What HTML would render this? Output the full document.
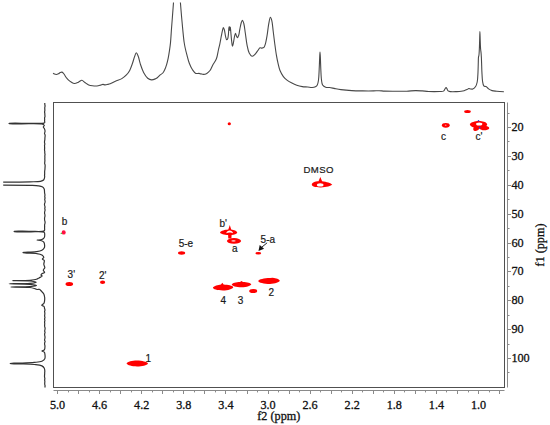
<!DOCTYPE html>
<html><head><meta charset="utf-8"><style>
html,body{margin:0;padding:0;background:#fff;}
body{width:550px;height:425px;overflow:hidden;}
svg{display:block;}
.serif{font-family:"Liberation Serif",serif;font-size:12.2px;fill:#111;stroke:#111;stroke-width:0.3px;}
.lab{font-family:"Liberation Sans",sans-serif;font-size:10px;fill:#1a1a1a;stroke:#1a1a1a;stroke-width:0.2px;}
</style></head><body>
<svg width="550" height="425" viewBox="0 0 550 425">
<rect x="0" y="0" width="550" height="425" fill="#fff"/>
<!-- 1D spectra -->
<path d="M53.1 73.1 C53.1 73.1 53.98 73.87 54.5 74.1 C55.04 74.34 55.68 74.53 56.3 74.5 C56.98 74.47 57.75 74.12 58.4 73.8 C59.05 73.48 59.59 72.89 60.2 72.6 C60.76 72.34 61.38 72.01 61.9 72.1 C62.41 72.19 62.86 72.66 63.3 73.1 C63.84 73.64 64.32 74.47 64.8 75.2 C65.29 75.94 65.64 76.76 66.2 77.5 C66.8 78.3 67.52 79.07 68.3 79.8 C69.14 80.58 70.08 81.39 71.1 82 C72.14 82.63 73.32 83.44 74.5 83.5 C75.74 83.56 77.16 82.74 78.4 82.2 C79.62 81.67 80.8 80.23 81.9 80.3 C82.96 80.37 83.83 81.77 84.9 82.5 C86.08 83.3 87.39 84.35 88.7 84.9 C89.93 85.42 91.18 85.62 92.5 85.8 C93.9 86 95.5 86.13 96.9 86 C98.22 85.88 99.61 85.4 100.7 85.1 C101.54 84.87 102.16 84.43 102.9 84.4 C103.63 84.37 104.33 84.88 105.1 84.9 C105.95 84.92 106.93 84.61 107.8 84.4 C108.63 84.2 109.26 84.06 110.2 83.7 C111.62 83.16 113.56 82.01 115.4 81.2 C117.41 80.31 119.91 79.71 121.8 78.6 C123.54 77.57 125.07 76.29 126.4 74.9 C127.69 73.55 128.74 72.14 129.7 70.4 C130.82 68.36 131.66 65.68 132.5 63.3 C133.33 60.95 133.96 58.12 134.7 56.2 C135.23 54.84 135.72 52.82 136.3 52.8 C136.89 52.78 137.63 54.8 138.2 56.2 C139.02 58.21 139.44 61.29 140.3 63.9 C141.22 66.69 142.26 69.91 143.6 72.4 C144.78 74.6 146.16 76.94 147.7 78.2 C148.89 79.17 150.28 79.81 151.6 79.9 C152.88 79.99 154.43 79.27 155.5 78.8 C156.34 78.43 156.9 78.06 157.6 77.5 C158.46 76.82 159.3 75.67 160.2 74.9 C161.04 74.18 162.07 73.81 162.8 73 C163.59 72.13 164.12 71.03 164.7 69.8 C165.41 68.3 166.04 66.45 166.6 64.6 C167.22 62.57 167.73 60.37 168.2 58.1 C168.71 55.65 169.12 52.98 169.5 50.4 C169.88 47.81 170.21 45.51 170.5 42.6 C170.87 38.91 171.09 34.23 171.4 30 C171.72 25.7 172.06 21.45 172.4 17 C172.76 12.3 173.5 2.5 173.5 2.5 M180.4 2.5 C180.4 2.5 181.19 12.3 181.6 17 C181.99 21.45 182.37 25.76 182.8 30 C183.21 34.08 183.62 38.69 184.1 42 C184.44 44.35 184.77 45.99 185.2 48 C185.64 50.06 186.1 51.94 186.7 54.2 C187.43 56.95 188.25 60.56 189.3 63.3 C190.22 65.69 191.28 68.02 192.5 69.8 C193.5 71.26 194.58 72.86 195.8 73.4 C196.79 73.83 198.08 73.28 199 73.4 C199.72 73.49 200.21 73.74 200.9 73.9 C201.7 74.08 202.59 74.45 203.5 74.4 C204.54 74.35 205.77 73.98 206.8 73.4 C207.95 72.75 209.06 71.72 210 70.5 C211.12 69.04 211.78 66.87 212.8 65 C213.9 62.98 215.49 61.12 216.4 58.8 C217.43 56.19 217.78 52.7 218.4 50 C218.93 47.7 219.42 45.85 219.9 43.6 C220.43 41.11 220.93 38.07 221.4 35.7 C221.79 33.76 222.11 31.88 222.5 30.4 C222.79 29.31 223.07 27.61 223.4 27.6 C223.71 27.59 224.1 29 224.4 30 C224.86 31.55 225.06 34.33 225.5 36.1 C225.85 37.5 226.21 39.7 226.7 39.8 C227 39.86 227.44 39.24 227.7 38.7 C228.14 37.8 228.21 36.14 228.4 34.6 C228.64 32.62 228.64 29.17 228.9 27.8 C229.02 27.19 229.18 26.49 229.3 26.5 C229.51 26.52 229.63 30.5 229.8 30.5 C229.96 30.5 230.15 27 230.3 27 C230.48 27 230.62 30.03 230.8 31.9 C231.04 34.39 231.27 38.02 231.6 40.6 C231.86 42.68 232.15 46.18 232.5 46.2 C232.77 46.21 233.11 44.13 233.4 42.8 C233.81 40.95 234.16 37.82 234.6 36.1 C234.88 34.99 235.18 33.41 235.5 33.4 C235.82 33.39 236.14 35.33 236.5 36.1 C236.78 36.72 237.08 37.7 237.4 37.7 C237.8 37.7 238.34 36.32 238.7 35.3 C239.24 33.78 239.37 31.37 239.8 29.3 C240.26 27.05 240.79 23.9 241.4 22.3 C241.74 21.4 242.14 20.28 242.5 20.3 C242.94 20.33 243.42 22.12 243.8 23.5 C244.44 25.8 244.79 29.63 245.3 33 C245.88 36.83 246.35 41.68 247.1 45.3 C247.7 48.21 248.16 51.15 249.2 53.1 C249.95 54.51 251 56.16 252 56.3 C252.88 56.42 253.93 55.3 254.8 54.5 C255.82 53.57 256.7 52.06 257.6 50.9 C258.43 49.83 259.14 48.14 260 47.8 C260.6 47.56 261.26 48.15 261.9 48.1 C262.59 48.04 263.45 47.92 264 47.4 C264.72 46.72 264.97 45.35 265.4 43.9 C266.05 41.71 266.58 38.44 267.1 35.4 C267.7 31.91 268.06 27.38 268.7 24.1 C269.2 21.53 269.78 17.35 270.4 17.3 C270.84 17.27 271.41 19.15 271.8 20.6 C272.48 23.1 272.74 27.61 273.2 31.2 C273.67 34.91 274.09 38.63 274.6 42.5 C275.15 46.61 275.75 51.4 276.4 55.2 C276.93 58.33 277.48 61.06 278.1 63.7 C278.65 66.05 279.05 68.2 279.9 70.3 C280.75 72.4 281.93 74.6 283.2 76.3 C284.33 77.8 285.62 79.01 287 80.1 C288.36 81.17 289.83 81.96 291.4 82.8 C293.08 83.7 294.96 84.66 296.8 85.3 C298.59 85.92 300.46 86.32 302.3 86.6 C304.1 86.88 305.99 86.84 307.7 87 C309.24 87.14 310.74 87.57 312.1 87.5 C313.28 87.44 314.5 87.27 315.4 86.8 C316.19 86.38 316.81 85.85 317.3 85 C317.98 83.82 318.2 82.01 318.5 80 C318.94 77.06 319 72.75 319.2 69 C319.41 65.09 319.54 60.14 319.7 57 C319.8 54.97 319.89 52 320 52 C320.11 52 320.24 54.97 320.35 57 C320.52 60.14 320.6 65.09 320.8 69 C320.99 72.75 321.09 77.06 321.5 80 C321.78 82 321.79 83.77 322.6 85 C323.3 86.06 324.55 86.78 325.7 87.2 C326.85 87.62 328.12 87.31 329.5 87.5 C331.17 87.73 333.13 88.25 335 88.6 C336.93 88.96 338.63 89.3 340.9 89.6 C343.97 90 348.16 90.38 351.8 90.6 C355.43 90.82 359.07 90.85 362.7 90.9 C366.33 90.95 370.58 90.95 373.6 90.9 C375.74 90.86 377.28 90.67 379.1 90.7 C380.91 90.73 382.37 91.01 384.5 91.1 C387.6 91.23 392.14 91.18 395.9 91.2 C399.57 91.22 403.37 91.32 406.8 91.2 C409.87 91.09 412.8 90.63 415.5 90.6 C417.85 90.57 419.91 90.75 422.1 90.9 C424.28 91.05 426.15 91.39 428.6 91.5 C431.76 91.65 436.76 91.64 439.5 91.5 C441.16 91.42 442.53 91.69 443.5 91.1 C444.35 90.58 444.7 89.15 445.2 88.5 C445.53 88.07 445.81 87.48 446.1 87.5 C446.42 87.53 446.69 88.39 447 88.9 C447.36 89.5 447.55 90.45 448.1 90.9 C448.65 91.35 449.36 91.45 450.3 91.6 C451.88 91.85 454.85 91.67 456.8 91.6 C458.41 91.55 459.89 91.48 461.2 91.3 C462.27 91.15 463.14 90.98 464.1 90.7 C465.08 90.42 466.16 90.01 467 89.6 C467.69 89.26 468.18 88.59 468.8 88.5 C469.38 88.42 469.96 88.91 470.6 89 C471.29 89.09 472.07 89.28 472.8 89 C473.75 88.64 474.88 87.57 475.6 86.5 C476.41 85.3 476.81 83.83 477.2 82 C477.77 79.35 477.82 75.34 478 72 C478.18 68.67 478.2 64.76 478.3 62 C478.37 60.05 478.32 58.17 478.5 57 C478.6 56.35 478.79 56.16 478.9 55.5 C479.11 54.25 479.19 52.11 479.3 50 C479.45 47.16 479.55 43.19 479.65 40 C479.74 37.08 479.81 31.6 479.9 31.6 C479.99 31.6 480.09 37.15 480.2 40 C480.32 42.95 480.4 46.57 480.6 49 C480.74 50.67 480.97 51.83 481.1 53.2 C481.22 54.5 481.27 55.59 481.35 57 C481.45 58.77 481.52 60.8 481.6 63 C481.7 65.7 481.74 68.96 481.9 72 C482.07 75.13 482.16 78.95 482.6 81.5 C482.9 83.26 483.08 85.14 483.8 85.9 C484.27 86.39 485.07 86.28 485.6 86.5 C486.05 86.69 486.39 86.8 486.8 87.1 C487.37 87.51 487.85 88.36 488.6 88.9 C489.53 89.56 490.81 90.22 492.1 90.6 C493.52 91.02 495.07 91.02 496.8 91.2 C498.92 91.42 503.9 91.8 503.9 91.8" fill="none" stroke="#484848" stroke-width="1.1" stroke-linejoin="round"/>
<path d="M44.77 103 C44.77 103 44.79 104 44.84 104.5 C44.89 105 45.06 105.5 45.05 106 C45.04 106.5 44.82 107 44.78 107.5 C44.74 108 44.79 108.5 44.8 109 C44.81 109.5 44.88 110 44.85 110.5 C44.82 111 44.62 111.5 44.61 112 C44.6 112.5 44.76 113 44.81 113.5 C44.85 114 44.85 114.5 44.88 115 C44.91 115.5 45.03 116 44.98 116.5 C44.93 117 44.61 117.5 44.56 118 C44.51 118.5 44.68 119 44.68 119.5 C44.68 120 44.53 120.51 44.55 121 C44.57 121.48 44.93 122.04 44.8 122.4 C44.69 122.71 44.49 122.91 44 123.1 C42.23 123.78 35.13 123.3 30 123.35 C23.73 123.41 9.72 122.78 9.1 123.4 C9.04 123.46 9.04 123.54 9.1 123.6 C9.72 124.22 24.07 123.61 30 123.7 C34.4 123.77 39.34 123.68 41.5 124 C42.37 124.13 42.81 124.23 43.3 124.5 C43.71 124.73 44.25 125.03 44.3 125.4 C44.36 125.84 43.3 126.47 43.3 127 C43.3 127.53 44.02 128.03 44.3 128.6 C44.59 129.19 44.9 129.9 44.99 130.5 C45.07 131.02 45 131.5 44.92 132 C44.84 132.5 44.5 133 44.53 133.5 C44.56 134 45 134.49 45.09 135 C45.18 135.49 45.11 136 45.08 136.5 C45.05 137 44.92 137.5 44.89 138 C44.86 138.5 44.92 139 44.87 139.5 C44.82 140 44.65 140.5 44.59 141 C44.53 141.5 44.47 142 44.51 142.5 C44.55 143 44.82 143.5 44.82 144 C44.82 144.5 44.57 145 44.54 145.5 C44.51 146 44.59 146.5 44.61 147 C44.63 147.5 44.66 148 44.65 148.5 C44.64 149 44.5 149.5 44.52 150 C44.54 150.5 44.74 151 44.78 151.5 C44.82 152 44.72 152.5 44.76 153 C44.8 153.5 45 154 45.01 154.5 C45.02 155 44.83 155.5 44.81 156 C44.79 156.5 44.88 157 44.88 157.5 C44.88 158 44.8 158.5 44.8 159 C44.8 159.5 44.9 160 44.9 160.5 C44.9 161 44.81 161.5 44.77 162 C44.73 162.5 44.62 163 44.67 163.5 C44.72 164 45.03 164.49 45.1 165 C45.17 165.5 45.12 166 45.1 166.5 C45.08 167 45.03 167.5 45 168 C44.97 168.5 44.97 169 44.92 169.5 C44.87 170 44.74 170.5 44.69 171 C44.64 171.5 44.64 172 44.64 172.5 C44.64 173 44.69 173.5 44.67 174 C44.65 174.5 44.53 175.02 44.54 175.5 C44.55 175.95 44.75 176.28 44.7 176.8 C44.61 177.64 44.3 179.25 43.6 180 C42.9 180.75 41.88 180.99 40.5 181.3 C38.07 181.85 34.31 181.67 30 181.8 C23.12 182 3.2 182.1 3.2 182.1 M3.2 185.2 C3.2 185.2 23.56 185.22 30 185.4 C33.63 185.5 36.26 185.45 38.5 185.8 C40 186.04 41.22 186.2 42.2 186.8 C43.06 187.33 43.79 188.08 44.2 189 C44.68 190.07 44.45 191.9 44.6 193 C44.71 193.78 44.95 194.38 44.96 195 C44.97 195.54 44.73 196 44.74 196.5 C44.75 197 45.01 197.5 45.01 198 C45.01 198.5 44.72 199 44.73 199.5 C44.74 200 45.02 200.5 45.07 201 C45.12 201.5 45.1 202.01 45.01 202.5 C44.92 203.01 44.56 203.49 44.5 204 C44.44 204.49 44.54 205 44.63 205.5 C44.72 206 45.03 206.5 45.05 207 C45.07 207.5 44.77 208 44.78 208.5 C44.79 209 45.1 209.5 45.09 210 C45.08 210.5 44.83 211 44.74 211.5 C44.65 212 44.52 212.5 44.54 213 C44.56 213.5 44.81 214 44.88 214.5 C44.95 215 45.01 215.5 44.97 216 C44.93 216.5 44.73 217 44.66 217.5 C44.59 218 44.54 218.5 44.55 219 C44.56 219.5 44.61 220 44.7 220.5 C44.79 221 45.04 221.5 45.08 222 C45.12 222.5 45.03 223 44.95 223.5 C44.86 224 44.62 224.5 44.57 225 C44.52 225.5 44.65 226 44.65 226.5 C44.65 227 44.6 227.43 44.56 228 C44.5 228.77 44.99 230.05 44.3 230.7 C42.72 232.2 34.89 231.19 30 231.3 C24.87 231.42 14.84 230.71 14.2 231.35 C14.11 231.44 14.11 231.56 14.2 231.65 C14.84 232.29 24.87 231.67 30 231.8 C34.86 231.93 42.56 231.05 44.2 232.4 C44.84 232.93 44.67 233.72 44.7 234.5 C44.74 235.47 44.72 236.94 44.2 237.8 C43.7 238.62 42.73 239.21 41.7 239.6 C40.43 240.09 37 239.91 37 240.1 C37 240.28 40.29 240.25 41.5 240.7 C42.44 241.05 43.28 241.5 43.8 242.2 C44.33 242.92 44.52 244.06 44.6 245 C44.68 245.93 44.7 246.96 44.3 247.8 C43.86 248.72 42.97 249.59 41.9 250.2 C40.5 250.99 38.51 251.26 36.3 251.6 C33.21 252.08 27.27 252.15 25 252.3 C24.02 252.37 22.91 252.34 22.9 252.45 C22.89 252.57 24.01 252.85 25 253 C27.26 253.34 33.21 253.05 36.3 253.5 C38.51 253.82 40.61 254.08 41.9 254.9 C42.83 255.49 43.78 256.46 43.8 257.2 C43.82 257.86 42.32 258.55 42.4 259.1 C42.48 259.65 44 259.8 44.3 260.5 C44.68 261.39 43.7 263.09 43.8 264.3 C43.89 265.45 44.92 266.59 44.8 267.6 C44.69 268.54 43.29 269.38 43.3 270.2 C43.31 270.94 44.76 271.73 44.6 272.3 C44.43 272.93 42.52 273.14 41.9 273.7 C41.44 274.12 40.93 274.71 41 275.1 C41.07 275.47 42.22 275.66 42.2 276 C42.18 276.53 40.1 277.33 39.1 277.9 C38.2 278.42 37.6 278.93 36.5 279.3 C34.86 279.85 32.71 280.07 30 280.3 C25.56 280.68 12.3 280.48 12.3 280.6 C12.3 280.72 25.63 280.53 30 281 C32.61 281.28 36.2 281.8 36.2 282.2 C36.2 282.6 32.69 283.12 30 283.4 C25.1 283.92 9.1 283.65 9.1 283.8 C9.1 283.95 25.03 283.75 30 284.3 C32.8 284.61 36.51 285.22 36.5 285.6 C36.49 285.98 32.75 286.36 30 286.6 C25.32 287.01 10.9 286.85 10.9 287 C10.9 287.15 25.58 286.89 30 287.5 C32.41 287.83 34.12 288.52 35.5 288.9 C36.33 289.13 36.84 289.44 37.5 289.5 C38.11 289.56 38.7 289.1 39.3 289.3 C40.13 289.57 41.04 290.8 41.8 291.6 C42.53 292.37 43.33 293.1 43.8 294 C44.27 294.9 44.46 296.05 44.6 297 C44.73 297.84 44.76 298.53 44.7 299.4 C44.63 300.46 44.6 301.91 44.1 302.9 C43.62 303.86 41.7 304.68 41.8 305.3 C41.89 305.84 43.65 305.91 44.1 306.5 C44.5 307.02 44.38 307.88 44.54 308.5 C44.68 309.04 44.97 309.5 44.98 310 C44.99 310.5 44.63 311 44.61 311.5 C44.59 312 44.81 312.5 44.84 313 C44.87 313.5 44.81 314 44.77 314.5 C44.73 315 44.58 315.5 44.61 316 C44.64 316.5 44.94 317 44.94 317.5 C44.94 318 44.59 318.5 44.58 319 C44.57 319.5 44.89 320 44.89 320.5 C44.89 321 44.59 321.5 44.57 322 C44.55 322.5 44.74 323 44.75 323.5 C44.76 324 44.64 324.5 44.63 325 C44.62 325.5 44.59 326 44.66 326.5 C44.73 327 45.03 327.5 45.08 328 C45.13 328.5 45.05 329 44.98 329.5 C44.91 330 44.67 330.5 44.68 331 C44.69 331.5 45.04 332 45.03 332.5 C45.02 333 44.68 333.5 44.63 334 C44.58 334.5 44.68 335 44.74 335.5 C44.8 336 44.99 336.5 45.01 337 C45.03 337.5 44.96 338 44.89 338.5 C44.81 339 44.53 339.5 44.56 340 C44.59 340.5 45.08 341 45.09 341.5 C45.1 342 44.7 342.49 44.63 343 C44.56 343.49 44.6 344 44.65 344.5 C44.7 345 44.95 345.38 44.96 346 C44.98 346.99 44.93 349.05 44.3 349.9 C43.78 350.6 41.89 350.72 41.9 351.1 C41.91 351.48 43.78 351.58 44.3 352.2 C44.84 352.85 44.9 353.99 45 355 C45.11 356.16 45.32 357.77 44.8 358.8 C44.28 359.83 43.19 360.61 41.9 361.2 C40.06 362.03 37.31 362.1 34.4 362.4 C30.39 362.82 24.32 362.95 20 363.1 C16.48 363.22 10.94 362.75 10.4 363.3 C10.29 363.41 10.29 363.59 10.4 363.7 C10.94 364.25 16.48 363.79 20 363.9 C24.32 364.03 30.39 364.04 34.4 364.5 C37.32 364.83 40.18 365.01 41.9 365.9 C43.04 366.48 43.82 367.31 44.3 368.2 C44.74 369.03 44.76 370.21 44.8 371 C44.83 371.58 44.72 372 44.7 372.5 C44.68 373 44.71 373.5 44.68 374 C44.65 374.5 44.56 375 44.54 375.5 C44.52 376 44.5 376.5 44.55 377 C44.6 377.5 44.83 378 44.85 378.5 C44.87 379 44.65 379.5 44.65 380 C44.65 380.5 44.85 381 44.86 381.5 C44.87 382 44.73 382.5 44.72 383 C44.71 383.5 44.71 384 44.77 384.5 C44.83 385 45.08 385.5 45.08 386 C45.08 386.5 44.79 387.5 44.79 387.5" fill="none" stroke="#333" stroke-width="1.2" stroke-linejoin="round"/>
<!-- frame -->
<rect x="53.5" y="102.5" width="451" height="285" fill="none" stroke="#505050" stroke-width="1"/>
<path d="M507.5 102.5V387.5M53.5 390.5H504.5" fill="none" stroke="#8a8a8a" stroke-width="1"/>
<path d="M57.5 390.5V394 M68.5 390.5V392.4 M78.5 390.5V394 M89.5 390.5V392.4 M99.5 390.5V394 M110.5 390.5V392.4 M120.5 390.5V394 M131.5 390.5V392.4 M141.5 390.5V394 M152.5 390.5V392.4 M162.5 390.5V394 M173.5 390.5V392.4 M183.5 390.5V394 M194.5 390.5V392.4 M204.5 390.5V394 M215.5 390.5V392.4 M225.5 390.5V394 M236.5 390.5V392.4 M247.5 390.5V394 M257.5 390.5V392.4 M268.5 390.5V394 M278.5 390.5V392.4 M289.5 390.5V394 M299.5 390.5V392.4 M310.5 390.5V394 M320.5 390.5V392.4 M331.5 390.5V394 M341.5 390.5V392.4 M352.5 390.5V394 M362.5 390.5V392.4 M373.5 390.5V394 M383.5 390.5V392.4 M394.5 390.5V394 M404.5 390.5V392.4 M415.5 390.5V394 M425.5 390.5V392.4 M436.5 390.5V394 M446.5 390.5V392.4 M457.5 390.5V394 M468.5 390.5V392.4 M478.5 390.5V394 M489.5 390.5V392.4 M499.5 390.5V394 M507.5 113.5H509.5 M507.5 127.5H511 M507.5 141.5H509.5 M507.5 156.5H511 M507.5 170.5H509.5 M507.5 185.5H511 M507.5 199.5H509.5 M507.5 214.5H511 M507.5 228.5H509.5 M507.5 243.5H511 M507.5 257.5H509.5 M507.5 271.5H511 M507.5 286.5H509.5 M507.5 300.5H511 M507.5 315.5H509.5 M507.5 329.5H511 M507.5 344.5H509.5 M507.5 358.5H511 M507.5 372.5H509.5" fill="none" stroke="#8a8a8a" stroke-width="1"/>
<g class="serif"><text x="57.5" y="408.6" text-anchor="middle">5.0</text><text x="99.6" y="408.6" text-anchor="middle">4.6</text><text x="141.7" y="408.6" text-anchor="middle">4.2</text><text x="183.8" y="408.6" text-anchor="middle">3.8</text><text x="225.9" y="408.6" text-anchor="middle">3.4</text><text x="268" y="408.6" text-anchor="middle">3.0</text><text x="310.1" y="408.6" text-anchor="middle">2.6</text><text x="352.2" y="408.6" text-anchor="middle">2.2</text><text x="394.3" y="408.6" text-anchor="middle">1.8</text><text x="436.4" y="408.6" text-anchor="middle">1.4</text><text x="478.5" y="408.6" text-anchor="middle">1.0</text><text x="511.4" y="131">20</text><text x="511.4" y="160">30</text><text x="511.4" y="189">40</text><text x="511.4" y="218">50</text><text x="511.4" y="247">60</text><text x="511.4" y="275">70</text><text x="511.4" y="304">80</text><text x="511.4" y="333">90</text><text x="511.4" y="362">100</text>
<text x="278.8" y="420.4" text-anchor="middle">f2 (ppm)</text>
<text transform="translate(544.2 245) rotate(-90)" text-anchor="middle">f1 (ppm)</text>
</g>
<g fill="#ff0000" stroke="none">
<!-- tiny dot near 3.4/19 -->
<ellipse cx="229.3" cy="123.8" rx="1.6" ry="1.5"/>
<!-- 1.1 / 15 -->
<ellipse cx="467.5" cy="111.6" rx="3.3" ry="1.5"/>
<!-- c -->
<ellipse cx="445.8" cy="125.3" rx="3.9" ry="2.4"/>
<ellipse cx="445.7" cy="125.3" rx="0.9" ry="0.7" fill="#ff8080"/>
<!-- c' cluster -->
<path d="M469.8 124 C471 122.3 475 121.2 478.5 121 C482 120.9 486 121.8 487 123.8 C487.5 125 486.8 125.6 486.3 126 C488.5 126.3 489.5 127.5 489.2 128.5 C488.6 130 485 130.6 482.5 130.2 C481 130 480 129.2 479.5 128.6 C478.5 130 476.5 131.4 474.8 131 C473 130.7 472.8 129 473.8 127.6 C472 127 469.8 126 469.8 124 Z"/>
<ellipse cx="479.2" cy="124" rx="3.1" ry="1.5" fill="#fff"/>
<circle cx="478.5" cy="120.7" r="0.8" fill="#3030e0"/>
<circle cx="479.7" cy="127.6" r="0.9" fill="#3030e0"/>
<!-- DMSO -->
<path d="M311.8 184.6 C311.8 182.5 315 181.4 318.5 181.2 L320.3 177.1 L322.1 181.2 C326.5 181.6 331 183.3 332.3 184.6 C331 186 326.5 187.4 321 187.5 C315.5 187.6 311.8 186.6 311.8 184.6 Z"/>
<ellipse cx="320.2" cy="184.9" rx="3.3" ry="1.7" fill="#fff"/>
<!-- b' -->
<path d="M220 232.5 C221 230.7 225 229.8 228.3 229.5 L229.8 224.9 L231.2 229.5 C234 229.8 237 231 237.3 232.5 C237 233.9 234 234.8 231.6 235.1 L231.4 238.6 L228.3 238.6 L228.1 235.1 C224 234.8 220.5 233.8 220 232.5 Z"/>
<path d="M226.3 233.2 C226.5 231.3 228.3 230.5 229.6 230.5 C231 230.5 232.8 231.3 233 233.2 C232.2 232.6 231 232.4 229.6 232.4 C228.2 232.4 227.1 232.6 226.3 233.2 Z" fill="#fff"/>
<!-- a -->
<ellipse cx="234" cy="240.9" rx="7.1" ry="2.8"/>
<ellipse cx="233.5" cy="240.9" rx="2.2" ry="0.8" fill="#fff" opacity="0.7"/>
<!-- 5-e -->
<ellipse cx="181.6" cy="253" rx="3.6" ry="1.7"/>
<!-- 5-a -->
<ellipse cx="258.3" cy="253.3" rx="2.9" ry="1.2"/>
<!-- b -->
<ellipse cx="63.7" cy="232.4" rx="2" ry="2.2" fill="#ff1040"/>
<circle cx="61.3" cy="233.4" r="0.7" fill="#30d030"/>
<!-- 3' -->
<ellipse cx="69.3" cy="284" rx="3.8" ry="2.1"/>
<!-- 2' -->
<ellipse cx="102.6" cy="282.2" rx="2.6" ry="1.7"/>
<!-- 4 -->
<path d="M212.9 287.6 C214 285.8 218 284.9 221 284.5 L222.3 282.8 L223.6 284.5 C228 284.8 232.5 285.5 233.3 287.2 C232.5 289 228 290.5 223 290.5 C217 290.5 213 289.3 212.9 287.6 Z"/>
<!-- 3 -->
<path d="M231.7 284.5 C232.5 282.8 236 282.1 240 281.9 L241.5 281.1 L243 281.9 C247 282.1 251 283 251.3 284.3 C251 285.8 247 287.2 241.5 287.3 C236 287.2 232 286 231.7 284.5 Z"/>
<!-- small 3.2/78 -->
<ellipse cx="253.2" cy="291" rx="4" ry="2.1"/>
<!-- 2 -->
<path d="M258.1 280.9 C259 279.2 264 278.1 270 277.9 L272.8 277.7 C276 278 279.6 279.2 279.8 280.6 C279.6 282.3 275 283.8 270 283.9 C264 283.8 258.6 282.6 258.1 280.9 Z"/>
<!-- 1 -->
<path d="M126.5 363.6 C127.5 361.8 132 360.7 137 360.6 C142 360.7 147 361.9 148 363.4 C147 365.2 142 366.5 137 366.5 C132 366.5 127.5 365.3 126.5 363.6 Z"/>
</g>
<g class="lab">
<text x="303.6" y="172.8" textLength="29.8" style="font-size:9.6px">DMSO</text>
<text x="61.7" y="225.3">b</text>
<text x="219.4" y="226.8">b'</text>
<text x="232" y="252.2">a</text>
<text x="178.7" y="246.9">5-e</text>
<text x="260.6" y="242.7">5-a</text>
<text x="67.6" y="278.2">3'</text>
<text x="99" y="278.6">2'</text>
<text x="220.5" y="304">4</text>
<text x="237.7" y="304">3</text>
<text x="268.6" y="296">2</text>
<text x="145.6" y="361.9">1</text>
<text x="440.9" y="140.3">c</text>
<text x="475.4" y="139.8">c'</text>
</g>
<path d="M267.1 242.8 L261.8 247.2" stroke="#222" stroke-width="1" fill="none"/>
<path d="M258.5 250.9 L259.7 245.1 L264.1 248.7 Z" fill="#111"/>

</svg>
</body></html>
